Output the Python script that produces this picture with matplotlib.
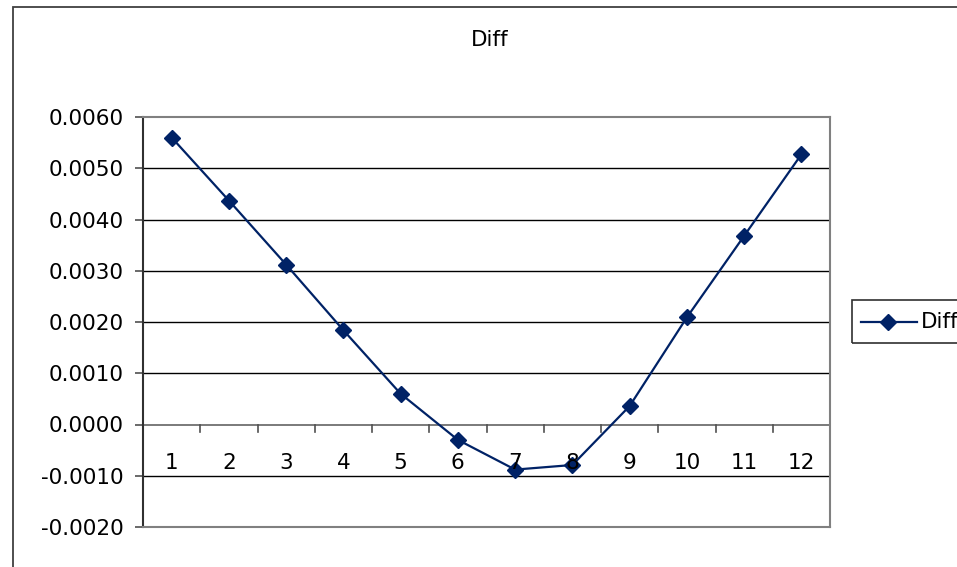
import numpy as np
import matplotlib.pyplot as plt
from matplotlib.patches import Rectangle
from matplotlib.lines import Line2D

# Значения ряда Diff по 12 точкам
categories = [str(i) for i in range(1, 13)]
diff = [0.00560, 0.00437, 0.00312, 0.00184, 0.00060, -0.00030,
        -0.00088, -0.00079, 0.00036, 0.00209, 0.00368, 0.00527]
yticks = [-0.002, -0.001, 0.0, 0.001, 0.002, 0.003, 0.004, 0.005, 0.006]

navy = '#002266'
W, H = 957, 567
fs = 15.5

plt.rcParams['font.family'] = ['DejaVu Sans']
fig = plt.figure(figsize=(W / 100, H / 100), dpi=100)

# рамка всей диаграммы (справа и снизу уходит за край)
fig.patches.append(Rectangle((13 / W, -0.1), 1.2, (H - 7) / H + 0.1,
                             transform=fig.transFigure, fill=False,
                             edgecolor='#404040', linewidth=1.3))

ax = fig.add_axes([143 / W, (H - 527) / H, (830 - 143) / W, (527 - 117) / H])
x = np.arange(1, 13)

ax.plot(x, diff, color=navy, linewidth=1.6, marker='D', markersize=8.5, zorder=3)

ax.set_xlim(0.5, 12.5)
ax.set_ylim(-0.002, 0.006)

for v in yticks[1:-1]:
    if v != 0:
        ax.axhline(v, color='black', linewidth=1.0, zorder=1)
ax.axhline(0, color='#707070', linewidth=1.3, zorder=2)

# засечки на оси X (на нулевой линии) между категориями
for b in np.arange(0.5, 13, 1.0):
    ax.plot([b, b], [0, -0.00014], color='#505050', linewidth=1.2,
            zorder=2, clip_on=False)
for lab, xi in zip(categories, x):
    ax.text(xi, -0.00075, lab, ha='center', va='center', fontsize=fs, zorder=5)

ax.set_xticks([])
ax.set_yticks(yticks)
ax.set_yticklabels(['%.4f' % v for v in yticks], fontsize=fs)
ax.tick_params(axis='y', direction='out', length=6, width=1.2,
               color='#505050', pad=8)

for side in ['top', 'right', 'bottom']:
    ax.spines[side].set_color('#808080')
    ax.spines[side].set_linewidth(1.5)
ax.spines['left'].set_color('#303030')
ax.spines['left'].set_linewidth(1.5)

fig.text(490 / W, 1 - 40 / H, 'Diff', ha='center', va='center', fontsize=fs)

# легенда справа
fig.patches.append(Rectangle((852 / W, 1 - 343 / H), 0.2, 43 / H,
                             transform=fig.transFigure, fill=False,
                             edgecolor='#303030', linewidth=1.2))
fig.lines.append(Line2D([861 / W, 917 / W], [1 - 322 / H] * 2,
                        transform=fig.transFigure, color=navy, linewidth=1.6))
fig.lines.append(Line2D([888 / W], [1 - 322 / H], transform=fig.transFigure,
                        marker='D', markersize=8.5, color=navy))
fig.text(921 / W, 1 - 322 / H, 'Diff', ha='left', va='center', fontsize=fs)

fig.savefig('out.png', dpi=100)
